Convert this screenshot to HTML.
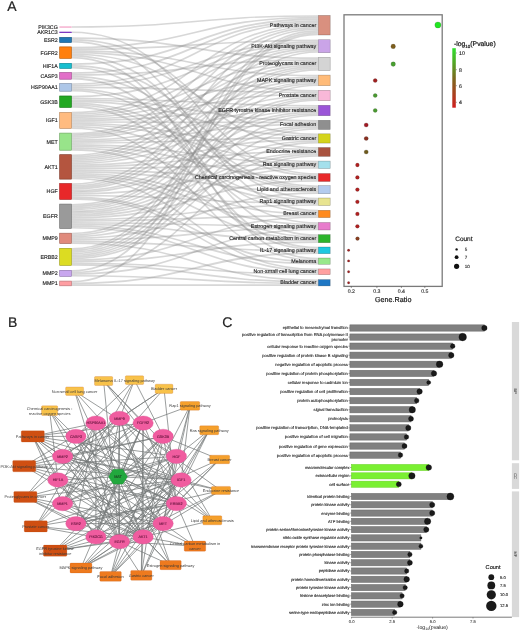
<!DOCTYPE html>
<html><head><meta charset="utf-8"><style>
html,body{margin:0;padding:0;background:#fff;}
svg{display:block;font-family:"Liberation Sans", sans-serif;text-rendering:geometricPrecision;will-change:transform;}
</style></head><body>
<svg width="520" height="631" viewBox="0 0 520 631">
<g fill="none" stroke="#8c8c8c" stroke-opacity="0.35"><path d="M71.8,27.05C194.9,27.05 194.9,15.95 318.0,15.95" stroke-width="1.39"/><path d="M71.8,32.35C194.9,32.35 194.9,174.07 318.0,174.07" stroke-width="1.51"/><path d="M71.8,38.21C194.9,38.21 194.9,58.09 318.0,58.09" stroke-width="1.81"/><path d="M71.8,39.98C194.9,39.98 194.9,147.96 318.0,147.96" stroke-width="1.74"/><path d="M71.8,41.72C194.9,41.72 194.9,210.71 318.0,210.71" stroke-width="1.74"/><path d="M71.8,47.56C194.9,47.56 194.9,17.50 318.0,17.50" stroke-width="1.70"/><path d="M71.8,49.26C194.9,49.26 194.9,40.39 318.0,40.39" stroke-width="1.71"/><path d="M71.8,50.95C194.9,50.95 194.9,75.59 318.0,75.59" stroke-width="1.66"/><path d="M71.8,52.60C194.9,52.60 194.9,90.74 318.0,90.74" stroke-width="1.64"/><path d="M71.8,54.26C194.9,54.26 194.9,134.33 318.0,134.33" stroke-width="1.68"/><path d="M71.8,55.93C194.9,55.93 194.9,198.53 318.0,198.53" stroke-width="1.67"/><path d="M71.8,57.63C194.9,57.63 194.9,258.66 318.0,258.66" stroke-width="1.72"/><path d="M71.8,64.03C194.9,64.03 194.9,19.24 318.0,19.24" stroke-width="1.79"/><path d="M71.8,65.84C194.9,65.84 194.9,175.73 318.0,175.73" stroke-width="1.81"/><path d="M71.8,67.65C194.9,67.65 194.9,235.28 318.0,235.28" stroke-width="1.82"/><path d="M71.8,73.16C194.9,73.16 194.9,21.01 318.0,21.01" stroke-width="1.75"/><path d="M71.8,74.92C194.9,74.92 194.9,59.88 318.0,59.88" stroke-width="1.77"/><path d="M71.8,76.70C194.9,76.70 194.9,186.27 318.0,186.27" stroke-width="1.78"/><path d="M71.8,78.50C194.9,78.50 194.9,247.72 318.0,247.72" stroke-width="1.83"/><path d="M71.8,84.10C194.9,84.10 194.9,22.72 318.0,22.72" stroke-width="1.66"/><path d="M71.8,85.77C194.9,85.77 194.9,42.08 318.0,42.08" stroke-width="1.67"/><path d="M71.8,87.41C194.9,87.41 194.9,92.37 318.0,92.37" stroke-width="1.61"/><path d="M71.8,89.05C194.9,89.05 194.9,188.00 318.0,188.00" stroke-width="1.69"/><path d="M71.8,90.71C194.9,90.71 194.9,223.00 318.0,223.00" stroke-width="1.63"/><path d="M71.8,96.63C194.9,96.63 194.9,43.77 318.0,43.77" stroke-width="1.71"/><path d="M71.8,98.30C194.9,98.30 194.9,105.73 318.0,105.73" stroke-width="1.64"/><path d="M71.8,99.96C194.9,99.96 194.9,120.86 318.0,120.86" stroke-width="1.67"/><path d="M71.8,101.64C194.9,101.64 194.9,136.01 318.0,136.01" stroke-width="1.68"/><path d="M71.8,103.34C194.9,103.34 194.9,189.71 318.0,189.71" stroke-width="1.73"/><path d="M71.8,105.03C194.9,105.03 194.9,212.41 318.0,212.41" stroke-width="1.65"/><path d="M71.8,106.74C194.9,106.74 194.9,249.52 318.0,249.52" stroke-width="1.77"/><path d="M71.8,112.59C194.9,112.59 194.9,24.35 318.0,24.35" stroke-width="1.59"/><path d="M71.8,114.18C194.9,114.18 194.9,45.42 318.0,45.42" stroke-width="1.60"/><path d="M71.8,115.78C194.9,115.78 194.9,61.57 318.0,61.57" stroke-width="1.60"/><path d="M71.8,117.36C194.9,117.36 194.9,77.19 318.0,77.19" stroke-width="1.55"/><path d="M71.8,118.90C194.9,118.90 194.9,93.93 318.0,93.93" stroke-width="1.53"/><path d="M71.8,120.43C194.9,120.43 194.9,107.32 318.0,107.32" stroke-width="1.53"/><path d="M71.8,121.97C194.9,121.97 194.9,122.48 318.0,122.48" stroke-width="1.56"/><path d="M71.8,123.52C194.9,123.52 194.9,149.60 318.0,149.60" stroke-width="1.54"/><path d="M71.8,125.06C194.9,125.06 194.9,161.56 318.0,161.56" stroke-width="1.55"/><path d="M71.8,126.61C194.9,126.61 194.9,200.14 318.0,200.14" stroke-width="1.56"/><path d="M71.8,128.20C194.9,128.20 194.9,260.32 318.0,260.32" stroke-width="1.61"/><path d="M71.8,133.49C194.9,133.49 194.9,25.96 318.0,25.96" stroke-width="1.65"/><path d="M71.8,135.14C194.9,135.14 194.9,47.04 318.0,47.04" stroke-width="1.65"/><path d="M71.8,136.80C194.9,136.80 194.9,63.20 318.0,63.20" stroke-width="1.66"/><path d="M71.8,138.43C194.9,138.43 194.9,78.76 318.0,78.76" stroke-width="1.60"/><path d="M71.8,140.03C194.9,140.03 194.9,108.88 318.0,108.88" stroke-width="1.59"/><path d="M71.8,141.63C194.9,141.63 194.9,124.07 318.0,124.07" stroke-width="1.62"/><path d="M71.8,143.26C194.9,143.26 194.9,137.67 318.0,137.67" stroke-width="1.63"/><path d="M71.8,144.88C194.9,144.88 194.9,163.13 318.0,163.13" stroke-width="1.60"/><path d="M71.8,146.51C194.9,146.51 194.9,177.47 318.0,177.47" stroke-width="1.66"/><path d="M71.8,148.15C194.9,148.15 194.9,201.73 318.0,201.73" stroke-width="1.61"/><path d="M71.8,149.80C194.9,149.80 194.9,237.03 318.0,237.03" stroke-width="1.67"/><path d="M71.8,155.32C194.9,155.32 194.9,27.62 318.0,27.62" stroke-width="1.67"/><path d="M71.8,157.00C194.9,157.00 194.9,48.71 318.0,48.71" stroke-width="1.68"/><path d="M71.8,158.69C194.9,158.69 194.9,64.87 318.0,64.87" stroke-width="1.69"/><path d="M71.8,160.35C194.9,160.35 194.9,80.38 318.0,80.38" stroke-width="1.63"/><path d="M71.8,161.97C194.9,161.97 194.9,95.51 318.0,95.51" stroke-width="1.62"/><path d="M71.8,163.59C194.9,163.59 194.9,110.48 318.0,110.48" stroke-width="1.62"/><path d="M71.8,165.23C194.9,165.23 194.9,139.31 318.0,139.31" stroke-width="1.66"/><path d="M71.8,166.87C194.9,166.87 194.9,151.19 318.0,151.19" stroke-width="1.62"/><path d="M71.8,168.50C194.9,168.50 194.9,164.75 318.0,164.75" stroke-width="1.63"/><path d="M71.8,170.16C194.9,170.16 194.9,179.15 318.0,179.15" stroke-width="1.69"/><path d="M71.8,171.86C194.9,171.86 194.9,191.43 318.0,191.43" stroke-width="1.70"/><path d="M71.8,173.53C194.9,173.53 194.9,214.04 318.0,214.04" stroke-width="1.62"/><path d="M71.8,175.16C194.9,175.16 194.9,224.63 318.0,224.63" stroke-width="1.64"/><path d="M71.8,176.83C194.9,176.83 194.9,238.71 318.0,238.71" stroke-width="1.70"/><path d="M71.8,178.50C194.9,178.50 194.9,269.38 318.0,269.38" stroke-width="1.63"/><path d="M71.8,184.09C194.9,184.09 194.9,29.29 318.0,29.29" stroke-width="1.66"/><path d="M71.8,185.75C194.9,185.75 194.9,50.39 318.0,50.39" stroke-width="1.66"/><path d="M71.8,187.42C194.9,187.42 194.9,66.55 318.0,66.55" stroke-width="1.67"/><path d="M71.8,189.06C194.9,189.06 194.9,82.01 318.0,82.01" stroke-width="1.61"/><path d="M71.8,190.67C194.9,190.67 194.9,112.09 318.0,112.09" stroke-width="1.60"/><path d="M71.8,192.29C194.9,192.29 194.9,125.70 318.0,125.70" stroke-width="1.63"/><path d="M71.8,193.91C194.9,193.91 194.9,166.38 318.0,166.38" stroke-width="1.61"/><path d="M71.8,195.53C194.9,195.53 194.9,203.35 318.0,203.35" stroke-width="1.63"/><path d="M71.8,197.18C194.9,197.18 194.9,261.97 318.0,261.97" stroke-width="1.68"/><path d="M71.8,198.83C194.9,198.83 194.9,271.00 318.0,271.00" stroke-width="1.61"/><path d="M71.8,204.74C194.9,204.74 194.9,68.23 318.0,68.23" stroke-width="1.69"/><path d="M71.8,206.39C194.9,206.39 194.9,83.63 318.0,83.63" stroke-width="1.63"/><path d="M71.8,208.02C194.9,208.02 194.9,97.13 318.0,97.13" stroke-width="1.62"/><path d="M71.8,209.63C194.9,209.63 194.9,113.70 318.0,113.70" stroke-width="1.62"/><path d="M71.8,211.26C194.9,211.26 194.9,127.34 318.0,127.34" stroke-width="1.65"/><path d="M71.8,212.92C194.9,212.92 194.9,140.97 318.0,140.97" stroke-width="1.65"/><path d="M71.8,214.55C194.9,214.55 194.9,152.81 318.0,152.81" stroke-width="1.62"/><path d="M71.8,216.18C194.9,216.18 194.9,168.00 318.0,168.00" stroke-width="1.63"/><path d="M71.8,217.84C194.9,217.84 194.9,180.84 318.0,180.84" stroke-width="1.69"/><path d="M71.8,219.50C194.9,219.50 194.9,204.98 318.0,204.98" stroke-width="1.64"/><path d="M71.8,221.13C194.9,221.13 194.9,215.66 318.0,215.66" stroke-width="1.62"/><path d="M71.8,222.76C194.9,222.76 194.9,226.27 318.0,226.27" stroke-width="1.64"/><path d="M71.8,224.43C194.9,224.43 194.9,240.42 318.0,240.42" stroke-width="1.70"/><path d="M71.8,226.13C194.9,226.13 194.9,263.65 318.0,263.65" stroke-width="1.69"/><path d="M71.8,227.79C194.9,227.79 194.9,272.63 318.0,272.63" stroke-width="1.63"/><path d="M71.8,233.50C194.9,233.50 194.9,69.89 318.0,69.89" stroke-width="1.63"/><path d="M71.8,235.10C194.9,235.10 194.9,98.72 318.0,98.72" stroke-width="1.56"/><path d="M71.8,236.66C194.9,236.66 194.9,154.40 318.0,154.40" stroke-width="1.57"/><path d="M71.8,238.27C194.9,238.27 194.9,193.10 318.0,193.10" stroke-width="1.65"/><path d="M71.8,239.89C194.9,239.89 194.9,227.89 318.0,227.89" stroke-width="1.59"/><path d="M71.8,241.53C194.9,241.53 194.9,251.25 318.0,251.25" stroke-width="1.69"/><path d="M71.8,243.20C194.9,243.20 194.9,280.20 318.0,280.20" stroke-width="1.64"/><path d="M71.8,248.78C194.9,248.78 194.9,30.94 318.0,30.94" stroke-width="1.64"/><path d="M71.8,250.42C194.9,250.42 194.9,52.04 318.0,52.04" stroke-width="1.65"/><path d="M71.8,252.04C194.9,252.04 194.9,85.24 318.0,85.24" stroke-width="1.60"/><path d="M71.8,253.63C194.9,253.63 194.9,100.29 318.0,100.29" stroke-width="1.58"/><path d="M71.8,255.21C194.9,255.21 194.9,115.30 318.0,115.30" stroke-width="1.58"/><path d="M71.8,256.81C194.9,256.81 194.9,128.97 318.0,128.97" stroke-width="1.61"/><path d="M71.8,258.42C194.9,258.42 194.9,142.60 318.0,142.60" stroke-width="1.62"/><path d="M71.8,260.03C194.9,260.03 194.9,217.27 318.0,217.27" stroke-width="1.59"/><path d="M71.8,261.65C194.9,261.65 194.9,242.10 318.0,242.10" stroke-width="1.67"/><path d="M71.8,263.28C194.9,263.28 194.9,274.24 318.0,274.24" stroke-width="1.60"/><path d="M71.8,264.91C194.9,264.91 194.9,281.85 318.0,281.85" stroke-width="1.66"/><path d="M71.8,270.83C194.9,270.83 194.9,32.59 318.0,32.59" stroke-width="1.67"/><path d="M71.8,272.47C194.9,272.47 194.9,156.00 318.0,156.00" stroke-width="1.62"/><path d="M71.8,274.10C194.9,274.10 194.9,229.50 318.0,229.50" stroke-width="1.64"/><path d="M71.8,275.76C194.9,275.76 194.9,283.53 318.0,283.53" stroke-width="1.69"/><path d="M71.8,281.68C194.9,281.68 194.9,34.28 318.0,34.28" stroke-width="1.73"/><path d="M71.8,283.44C194.9,283.44 194.9,252.99 318.0,252.99" stroke-width="1.80"/><path d="M71.8,285.21C194.9,285.21 194.9,285.24 318.0,285.24" stroke-width="1.75"/></g>
<rect x="59.699999999999996" y="26.8" width="11.8" height="0.50" fill="#f4a6c8" stroke="#f4a6c8" stroke-width="0.6"/>
<text x="57.80" y="28.96" font-size="5.3" text-anchor="end" fill="#222" stroke="#222" stroke-width="0.13" >PIK3CG</text>
<rect x="59.699999999999996" y="32.0" width="11.8" height="0.70" fill="#7a35c0" stroke="#7a35c0" stroke-width="0.6"/>
<text x="57.80" y="34.26" font-size="5.3" text-anchor="end" fill="#222" stroke="#222" stroke-width="0.13" >AKR1C3</text>
<rect x="59.699999999999996" y="37.4" width="11.8" height="5.10" fill="#1f77b4" stroke="#1f77b4" stroke-width="0.6"/>
<rect x="59.699999999999996" y="37.4" width="11.8" height="5.10" fill="none" stroke="#000" stroke-opacity="0.3" stroke-width="0.6"/>
<text x="57.80" y="41.86" font-size="5.3" text-anchor="end" fill="#222" stroke="#222" stroke-width="0.13" >ESR2</text>
<rect x="59.699999999999996" y="46.9" width="11.8" height="11.40" fill="#ff7f0e" stroke="#ff7f0e" stroke-width="0.6"/>
<rect x="59.699999999999996" y="46.9" width="11.8" height="11.40" fill="none" stroke="#000" stroke-opacity="0.3" stroke-width="0.6"/>
<text x="57.80" y="54.51" font-size="5.3" text-anchor="end" fill="#222" stroke="#222" stroke-width="0.13" >FGFR2</text>
<rect x="59.699999999999996" y="63.3" width="11.8" height="5.10" fill="#17becf" stroke="#17becf" stroke-width="0.6"/>
<rect x="59.699999999999996" y="63.3" width="11.8" height="5.10" fill="none" stroke="#000" stroke-opacity="0.3" stroke-width="0.6"/>
<text x="57.80" y="67.76" font-size="5.3" text-anchor="end" fill="#222" stroke="#222" stroke-width="0.13" >HIF1A</text>
<rect x="59.699999999999996" y="72.5" width="11.8" height="6.70" fill="#e26fc8" stroke="#e26fc8" stroke-width="0.6"/>
<rect x="59.699999999999996" y="72.5" width="11.8" height="6.70" fill="none" stroke="#000" stroke-opacity="0.3" stroke-width="0.6"/>
<text x="57.80" y="77.76" font-size="5.3" text-anchor="end" fill="#222" stroke="#222" stroke-width="0.13" >CASP3</text>
<rect x="59.699999999999996" y="83.6" width="11.8" height="7.60" fill="#aec7e8" stroke="#aec7e8" stroke-width="0.6"/>
<rect x="59.699999999999996" y="83.6" width="11.8" height="7.60" fill="none" stroke="#000" stroke-opacity="0.3" stroke-width="0.6"/>
<text x="57.80" y="89.31" font-size="5.3" text-anchor="end" fill="#222" stroke="#222" stroke-width="0.13" >HSP90AA1</text>
<rect x="59.699999999999996" y="96.0" width="11.8" height="11.40" fill="#22a822" stroke="#22a822" stroke-width="0.6"/>
<rect x="59.699999999999996" y="96.0" width="11.8" height="11.40" fill="none" stroke="#000" stroke-opacity="0.3" stroke-width="0.6"/>
<text x="57.80" y="103.61" font-size="5.3" text-anchor="end" fill="#222" stroke="#222" stroke-width="0.13" >GSK3B</text>
<rect x="59.699999999999996" y="112.5" width="11.8" height="15.80" fill="#ffbb80" stroke="#ffbb80" stroke-width="0.6"/>
<rect x="59.699999999999996" y="112.5" width="11.8" height="15.80" fill="none" stroke="#000" stroke-opacity="0.3" stroke-width="0.6"/>
<text x="57.80" y="122.31" font-size="5.3" text-anchor="end" fill="#222" stroke="#222" stroke-width="0.13" >IGF1</text>
<rect x="59.699999999999996" y="133.10000000000002" width="11.8" height="17.10" fill="#98e48a" stroke="#98e48a" stroke-width="0.6"/>
<rect x="59.699999999999996" y="133.10000000000002" width="11.8" height="17.10" fill="none" stroke="#000" stroke-opacity="0.3" stroke-width="0.6"/>
<text x="57.80" y="143.56" font-size="5.3" text-anchor="end" fill="#222" stroke="#222" stroke-width="0.13" >MET</text>
<rect x="59.699999999999996" y="154.70000000000002" width="11.8" height="24.40" fill="#b4553f" stroke="#b4553f" stroke-width="0.6"/>
<rect x="59.699999999999996" y="154.70000000000002" width="11.8" height="24.40" fill="none" stroke="#000" stroke-opacity="0.3" stroke-width="0.6"/>
<text x="57.80" y="168.81" font-size="5.3" text-anchor="end" fill="#222" stroke="#222" stroke-width="0.13" >AKT1</text>
<rect x="59.699999999999996" y="183.60000000000002" width="11.8" height="15.70" fill="#e8282a" stroke="#e8282a" stroke-width="0.6"/>
<rect x="59.699999999999996" y="183.60000000000002" width="11.8" height="15.70" fill="none" stroke="#000" stroke-opacity="0.3" stroke-width="0.6"/>
<text x="57.80" y="193.36" font-size="5.3" text-anchor="end" fill="#222" stroke="#222" stroke-width="0.13" >HGF</text>
<rect x="59.699999999999996" y="204.10000000000002" width="11.8" height="24.30" fill="#9a9a9a" stroke="#9a9a9a" stroke-width="0.6"/>
<rect x="59.699999999999996" y="204.10000000000002" width="11.8" height="24.30" fill="none" stroke="#000" stroke-opacity="0.3" stroke-width="0.6"/>
<text x="57.80" y="218.16" font-size="5.3" text-anchor="end" fill="#222" stroke="#222" stroke-width="0.13" >EGFR</text>
<rect x="59.699999999999996" y="233.20000000000002" width="11.8" height="10.30" fill="#e08a7c" stroke="#e08a7c" stroke-width="0.6"/>
<rect x="59.699999999999996" y="233.20000000000002" width="11.8" height="10.30" fill="none" stroke="#000" stroke-opacity="0.3" stroke-width="0.6"/>
<text x="57.80" y="240.26" font-size="5.3" text-anchor="end" fill="#222" stroke="#222" stroke-width="0.13" >MMP9</text>
<rect x="59.699999999999996" y="248.4" width="11.8" height="16.90" fill="#dcdc22" stroke="#dcdc22" stroke-width="0.6"/>
<rect x="59.699999999999996" y="248.4" width="11.8" height="16.90" fill="none" stroke="#000" stroke-opacity="0.3" stroke-width="0.6"/>
<text x="57.80" y="258.76" font-size="5.3" text-anchor="end" fill="#222" stroke="#222" stroke-width="0.13" >ERBB2</text>
<rect x="59.699999999999996" y="270.3" width="11.8" height="6.00" fill="#c8a6ee" stroke="#c8a6ee" stroke-width="0.6"/>
<rect x="59.699999999999996" y="270.3" width="11.8" height="6.00" fill="none" stroke="#000" stroke-opacity="0.3" stroke-width="0.6"/>
<text x="57.80" y="275.21" font-size="5.3" text-anchor="end" fill="#222" stroke="#222" stroke-width="0.13" >MMP2</text>
<rect x="59.699999999999996" y="281.1" width="11.8" height="4.70" fill="#ff9ea2" stroke="#ff9ea2" stroke-width="0.6"/>
<rect x="59.699999999999996" y="281.1" width="11.8" height="4.70" fill="none" stroke="#000" stroke-opacity="0.3" stroke-width="0.6"/>
<text x="57.80" y="285.36" font-size="5.3" text-anchor="end" fill="#222" stroke="#222" stroke-width="0.13" >MMP1</text>
<rect x="318.3" y="15.4" width="11.9" height="19.60" fill="#d9907f" stroke="#000" stroke-opacity="0.3" stroke-width="0.6"/>
<text x="316.20" y="26.63" font-size="5.35" text-anchor="end" fill="#222" stroke="#222" stroke-width="0.13" >Pathways in cancer</text>
<rect x="318.3" y="39.699999999999996" width="11.9" height="13.00" fill="#caa4e8" stroke="#000" stroke-opacity="0.3" stroke-width="0.6"/>
<text x="316.20" y="47.63" font-size="5.35" text-anchor="end" fill="#222" stroke="#222" stroke-width="0.13" >PI3K-Akt signaling pathway</text>
<rect x="318.3" y="57.4" width="11.9" height="13.10" fill="#d4d4d4" stroke="#000" stroke-opacity="0.3" stroke-width="0.6"/>
<text x="316.20" y="65.38" font-size="5.35" text-anchor="end" fill="#222" stroke="#222" stroke-width="0.13" >Proteoglycans in cancer</text>
<rect x="318.3" y="75.1" width="11.9" height="10.60" fill="#ffbb78" stroke="#000" stroke-opacity="0.3" stroke-width="0.6"/>
<text x="316.20" y="81.83" font-size="5.35" text-anchor="end" fill="#222" stroke="#222" stroke-width="0.13" >MAPK signaling pathway</text>
<rect x="318.3" y="90.3" width="11.9" height="10.40" fill="#f9b8d8" stroke="#000" stroke-opacity="0.3" stroke-width="0.6"/>
<text x="316.20" y="96.93" font-size="5.35" text-anchor="end" fill="#222" stroke="#222" stroke-width="0.13" >Prostate cancer</text>
<rect x="318.3" y="105.3" width="11.9" height="10.40" fill="#9b55d8" stroke="#000" stroke-opacity="0.3" stroke-width="0.6"/>
<text x="316.20" y="111.93" font-size="5.35" text-anchor="end" fill="#222" stroke="#222" stroke-width="0.13" >EGFR tyrosine kinase inhibitor resistance</text>
<rect x="318.3" y="120.3" width="11.9" height="9.20" fill="#8f8f8f" stroke="#000" stroke-opacity="0.3" stroke-width="0.6"/>
<text x="316.20" y="126.33" font-size="5.35" text-anchor="end" fill="#222" stroke="#222" stroke-width="0.13" >Focal adhesion</text>
<rect x="318.3" y="133.8" width="11.9" height="9.30" fill="#d4d41c" stroke="#000" stroke-opacity="0.3" stroke-width="0.6"/>
<text x="316.20" y="139.88" font-size="5.35" text-anchor="end" fill="#222" stroke="#222" stroke-width="0.13" >Gastric cancer</text>
<rect x="318.3" y="147.5" width="11.9" height="8.90" fill="#a9533f" stroke="#000" stroke-opacity="0.3" stroke-width="0.6"/>
<text x="316.20" y="153.38" font-size="5.35" text-anchor="end" fill="#222" stroke="#222" stroke-width="0.13" >Endocrine resistance</text>
<rect x="318.3" y="161.10000000000002" width="11.9" height="7.40" fill="#a4e0ec" stroke="#000" stroke-opacity="0.3" stroke-width="0.6"/>
<text x="316.20" y="166.23" font-size="5.35" text-anchor="end" fill="#222" stroke="#222" stroke-width="0.13" >Ras signaling pathway</text>
<rect x="318.3" y="173.5" width="11.9" height="8.00" fill="#e8282a" stroke="#000" stroke-opacity="0.3" stroke-width="0.6"/>
<text x="316.20" y="178.93" font-size="5.35" text-anchor="end" fill="#222" stroke="#222" stroke-width="0.13" >Chemical carcinogenesis - reactive oxygen species</text>
<rect x="318.3" y="185.60000000000002" width="11.9" height="8.10" fill="#b3cbee" stroke="#000" stroke-opacity="0.3" stroke-width="0.6"/>
<text x="316.20" y="191.08" font-size="5.35" text-anchor="end" fill="#222" stroke="#222" stroke-width="0.13" >Lipid and atherosclerosis</text>
<rect x="318.3" y="198.0" width="11.9" height="7.50" fill="#e8e490" stroke="#000" stroke-opacity="0.3" stroke-width="0.6"/>
<text x="316.20" y="203.18" font-size="5.35" text-anchor="end" fill="#222" stroke="#222" stroke-width="0.13" >Rap1 signaling pathway</text>
<rect x="318.3" y="210.3" width="11.9" height="7.30" fill="#ff8a1e" stroke="#000" stroke-opacity="0.3" stroke-width="0.6"/>
<text x="316.20" y="215.38" font-size="5.35" text-anchor="end" fill="#222" stroke="#222" stroke-width="0.13" >Breast cancer</text>
<rect x="318.3" y="222.5" width="11.9" height="7.50" fill="#e87ccc" stroke="#000" stroke-opacity="0.3" stroke-width="0.6"/>
<text x="316.20" y="227.68" font-size="5.35" text-anchor="end" fill="#222" stroke="#222" stroke-width="0.13" >Estrogen signaling pathway</text>
<rect x="318.3" y="234.60000000000002" width="11.9" height="8.10" fill="#2cb42c" stroke="#000" stroke-opacity="0.3" stroke-width="0.6"/>
<text x="316.20" y="240.08" font-size="5.35" text-anchor="end" fill="#222" stroke="#222" stroke-width="0.13" >Central carbon metabolism in cancer</text>
<rect x="318.3" y="247.0" width="11.9" height="6.70" fill="#1ec8e0" stroke="#000" stroke-opacity="0.3" stroke-width="0.6"/>
<text x="316.20" y="251.78" font-size="5.35" text-anchor="end" fill="#222" stroke="#222" stroke-width="0.13" >IL-17 signaling pathway</text>
<rect x="318.3" y="258.0" width="11.9" height="6.30" fill="#98e88a" stroke="#000" stroke-opacity="0.3" stroke-width="0.6"/>
<text x="316.20" y="262.58" font-size="5.35" text-anchor="end" fill="#222" stroke="#222" stroke-width="0.13" >Melanoma</text>
<rect x="318.3" y="268.90000000000003" width="11.9" height="5.80" fill="#ffa0a0" stroke="#000" stroke-opacity="0.3" stroke-width="0.6"/>
<text x="316.20" y="273.23" font-size="5.35" text-anchor="end" fill="#222" stroke="#222" stroke-width="0.13" >Non-small cell lung cancer</text>
<rect x="318.3" y="279.6" width="11.9" height="6.30" fill="#1f77c4" stroke="#000" stroke-opacity="0.3" stroke-width="0.6"/>
<text x="316.20" y="284.18" font-size="5.35" text-anchor="end" fill="#222" stroke="#222" stroke-width="0.13" >Bladder cancer</text>
<text x="7.30" y="11.34" font-size="14" text-anchor="start" fill="#222" stroke="#222" stroke-width="0.20" >A</text>
<rect x="344.0" y="14.8" width="98.2" height="271.6" fill="none" stroke="#7a7a7a" stroke-width="1.3"/>
<circle cx="437.9" cy="25.0" r="3.1" fill="#22e622" stroke="#222" stroke-opacity="0.5" stroke-width="0.3"/>
<circle cx="393.2" cy="46.4" r="2.3" fill="#7d5e1c" stroke="#222" stroke-opacity="0.5" stroke-width="0.3"/>
<circle cx="393.2" cy="64.1" r="2.3" fill="#48a030" stroke="#222" stroke-opacity="0.5" stroke-width="0.3"/>
<circle cx="375.2" cy="80.6" r="2.0" fill="#a02020" stroke="#222" stroke-opacity="0.5" stroke-width="0.3"/>
<circle cx="375.2" cy="95.5" r="2.0" fill="#4a9a30" stroke="#222" stroke-opacity="0.5" stroke-width="0.3"/>
<circle cx="375.2" cy="110.4" r="2.0" fill="#4a9a30" stroke="#222" stroke-opacity="0.5" stroke-width="0.3"/>
<circle cx="366.2" cy="125.0" r="2.1" fill="#a01a24" stroke="#222" stroke-opacity="0.5" stroke-width="0.3"/>
<circle cx="366.2" cy="138.5" r="2.1" fill="#8a3020" stroke="#222" stroke-opacity="0.5" stroke-width="0.3"/>
<circle cx="366.2" cy="152.0" r="2.1" fill="#6e5a1c" stroke="#222" stroke-opacity="0.5" stroke-width="0.3"/>
<circle cx="357.4" cy="165.0" r="1.9" fill="#b02020" stroke="#222" stroke-opacity="0.5" stroke-width="0.3"/>
<circle cx="357.4" cy="177.4" r="1.9" fill="#b02020" stroke="#222" stroke-opacity="0.5" stroke-width="0.3"/>
<circle cx="357.4" cy="189.6" r="1.9" fill="#b02020" stroke="#222" stroke-opacity="0.5" stroke-width="0.3"/>
<circle cx="357.4" cy="201.8" r="1.9" fill="#b02020" stroke="#222" stroke-opacity="0.5" stroke-width="0.3"/>
<circle cx="357.4" cy="213.9" r="1.9" fill="#b02020" stroke="#222" stroke-opacity="0.5" stroke-width="0.3"/>
<circle cx="357.4" cy="226.3" r="1.9" fill="#b02020" stroke="#222" stroke-opacity="0.5" stroke-width="0.3"/>
<circle cx="357.5" cy="238.6" r="1.9" fill="#8a4020" stroke="#222" stroke-opacity="0.5" stroke-width="0.3"/>
<circle cx="348.6" cy="250.2" r="1.2" fill="#a02020" stroke="#222" stroke-opacity="0.5" stroke-width="0.3"/>
<circle cx="348.6" cy="260.9" r="1.2" fill="#a02020" stroke="#222" stroke-opacity="0.5" stroke-width="0.3"/>
<circle cx="348.6" cy="271.8" r="1.2" fill="#a02020" stroke="#222" stroke-opacity="0.5" stroke-width="0.3"/>
<circle cx="348.6" cy="282.8" r="1.2" fill="#a02020" stroke="#222" stroke-opacity="0.5" stroke-width="0.3"/>
<line x1="351.3" y1="286.5" x2="351.3" y2="288" stroke="#333" stroke-width="0.5"/>
<text x="351.30" y="293.37" font-size="5.2" text-anchor="middle" fill="#333" stroke="#333" stroke-width="0.13" >0.2</text>
<line x1="376.9" y1="286.5" x2="376.9" y2="288" stroke="#333" stroke-width="0.5"/>
<text x="376.90" y="293.37" font-size="5.2" text-anchor="middle" fill="#333" stroke="#333" stroke-width="0.13" >0.3</text>
<line x1="401.4" y1="286.5" x2="401.4" y2="288" stroke="#333" stroke-width="0.5"/>
<text x="401.40" y="293.37" font-size="5.2" text-anchor="middle" fill="#333" stroke="#333" stroke-width="0.13" >0.4</text>
<line x1="424.8" y1="286.5" x2="424.8" y2="288" stroke="#333" stroke-width="0.5"/>
<text x="424.80" y="293.37" font-size="5.2" text-anchor="middle" fill="#333" stroke="#333" stroke-width="0.13" >0.5</text>
<text x="393.20" y="301.79" font-size="7.2" text-anchor="middle" fill="#111" stroke="#111" stroke-width="0.18" >Gene.Ratio</text>
<defs><linearGradient id="cg" x1="0" y1="0" x2="0" y2="1"><stop offset="0" stop-color="#2ee02e"/><stop offset="0.5" stop-color="#7a6a1e"/><stop offset="1" stop-color="#d01e1e"/></linearGradient></defs>
<rect x="452.3" y="48.2" width="3.5" height="59.5" fill="url(#cg)"/>
<text x="454.0" y="46.0" font-size="6.8" fill="#111" stroke="#111" stroke-width="0.2">-log<tspan font-size="4.5" dy="1.6">10</tspan><tspan dy="-1.6">(Pvalue)</tspan></text>
<line x1="455.8" y1="53.0" x2="457" y2="53.0" stroke="#333" stroke-width="0.4"/>
<text x="459.00" y="54.87" font-size="5.2" text-anchor="start" fill="#222" stroke="#222" stroke-width="0.13" >10</text>
<line x1="455.8" y1="69.7" x2="457" y2="69.7" stroke="#333" stroke-width="0.4"/>
<text x="459.00" y="71.57" font-size="5.2" text-anchor="start" fill="#222" stroke="#222" stroke-width="0.13" >8</text>
<line x1="455.8" y1="85.7" x2="457" y2="85.7" stroke="#333" stroke-width="0.4"/>
<text x="459.00" y="87.57" font-size="5.2" text-anchor="start" fill="#222" stroke="#222" stroke-width="0.13" >6</text>
<line x1="455.8" y1="102.3" x2="457" y2="102.3" stroke="#333" stroke-width="0.4"/>
<text x="459.00" y="104.17" font-size="5.2" text-anchor="start" fill="#222" stroke="#222" stroke-width="0.13" >4</text>
<text x="455.20" y="241.24" font-size="6.5" text-anchor="start" fill="#111" stroke="#111" stroke-width="0.16" >Count</text>
<circle cx="456.6" cy="249.4" r="1.2" fill="#111"/>
<text x="464.70" y="251.02" font-size="4.5" text-anchor="start" fill="#222" stroke="#222" stroke-width="0.11" >5</text>
<circle cx="456.6" cy="257.2" r="1.9" fill="#111"/>
<text x="464.70" y="258.82" font-size="4.5" text-anchor="start" fill="#222" stroke="#222" stroke-width="0.11" >7</text>
<circle cx="456.6" cy="266.3" r="2.6" fill="#111"/>
<text x="464.70" y="267.92" font-size="4.5" text-anchor="start" fill="#222" stroke="#222" stroke-width="0.11" >10</text>
<text x="8.00" y="327.04" font-size="14" text-anchor="start" fill="#222" stroke="#222" stroke-width="0.20" >B</text>
<g stroke="#737878" stroke-width="0.72"><line x1="95.9" y1="536.9" x2="32.7" y2="436.4"/><line x1="75.9" y1="523.6" x2="25.3" y2="497.0"/><line x1="75.9" y1="523.6" x2="221.0" y2="490.5"/><line x1="75.9" y1="523.6" x2="219.6" y2="459.5"/><line x1="143.1" y1="423.1" x2="32.7" y2="436.4"/><line x1="143.1" y1="423.1" x2="24.2" y2="466.1"/><line x1="143.1" y1="423.1" x2="80.9" y2="568.0"/><line x1="143.1" y1="423.1" x2="35.8" y2="526.3"/><line x1="143.1" y1="423.1" x2="141.3" y2="575.4"/><line x1="143.1" y1="423.1" x2="190.0" y2="405.9"/><line x1="143.1" y1="423.1" x2="103.6" y2="381.0"/><line x1="57.9" y1="480.0" x2="32.7" y2="436.4"/><line x1="57.9" y1="480.0" x2="49.6" y2="410.6"/><line x1="57.9" y1="480.0" x2="195.0" y2="546.1"/><line x1="75.9" y1="436.4" x2="32.7" y2="436.4"/><line x1="75.9" y1="436.4" x2="25.3" y2="497.0"/><line x1="75.9" y1="436.4" x2="212.3" y2="520.3"/><line x1="75.9" y1="436.4" x2="134.5" y2="380.2"/><line x1="95.9" y1="423.1" x2="32.7" y2="436.4"/><line x1="95.9" y1="423.1" x2="24.2" y2="466.1"/><line x1="95.9" y1="423.1" x2="35.8" y2="526.3"/><line x1="95.9" y1="423.1" x2="212.3" y2="520.3"/><line x1="95.9" y1="423.1" x2="170.6" y2="565.1"/><line x1="163.1" y1="436.4" x2="24.2" y2="466.1"/><line x1="163.1" y1="436.4" x2="55.1" y2="550.6"/><line x1="163.1" y1="436.4" x2="110.5" y2="576.4"/><line x1="163.1" y1="436.4" x2="141.3" y2="575.4"/><line x1="163.1" y1="436.4" x2="212.3" y2="520.3"/><line x1="163.1" y1="436.4" x2="219.6" y2="459.5"/><line x1="163.1" y1="436.4" x2="134.5" y2="380.2"/><line x1="181.1" y1="480.0" x2="32.7" y2="436.4"/><line x1="181.1" y1="480.0" x2="24.2" y2="466.1"/><line x1="181.1" y1="480.0" x2="25.3" y2="497.0"/><line x1="181.1" y1="480.0" x2="80.9" y2="568.0"/><line x1="181.1" y1="480.0" x2="35.8" y2="526.3"/><line x1="181.1" y1="480.0" x2="55.1" y2="550.6"/><line x1="181.1" y1="480.0" x2="110.5" y2="576.4"/><line x1="181.1" y1="480.0" x2="221.0" y2="490.5"/><line x1="181.1" y1="480.0" x2="209.2" y2="430.2"/><line x1="181.1" y1="480.0" x2="190.0" y2="405.9"/><line x1="181.1" y1="480.0" x2="103.6" y2="381.0"/><line x1="163.1" y1="523.6" x2="32.7" y2="436.4"/><line x1="163.1" y1="523.6" x2="24.2" y2="466.1"/><line x1="163.1" y1="523.6" x2="25.3" y2="497.0"/><line x1="163.1" y1="523.6" x2="80.9" y2="568.0"/><line x1="163.1" y1="523.6" x2="55.1" y2="550.6"/><line x1="163.1" y1="523.6" x2="110.5" y2="576.4"/><line x1="163.1" y1="523.6" x2="141.3" y2="575.4"/><line x1="163.1" y1="523.6" x2="209.2" y2="430.2"/><line x1="163.1" y1="523.6" x2="49.6" y2="410.6"/><line x1="163.1" y1="523.6" x2="190.0" y2="405.9"/><line x1="163.1" y1="523.6" x2="195.0" y2="546.1"/><line x1="143.1" y1="536.9" x2="32.7" y2="436.4"/><line x1="143.1" y1="536.9" x2="24.2" y2="466.1"/><line x1="143.1" y1="536.9" x2="25.3" y2="497.0"/><line x1="143.1" y1="536.9" x2="80.9" y2="568.0"/><line x1="143.1" y1="536.9" x2="35.8" y2="526.3"/><line x1="143.1" y1="536.9" x2="55.1" y2="550.6"/><line x1="143.1" y1="536.9" x2="141.3" y2="575.4"/><line x1="143.1" y1="536.9" x2="221.0" y2="490.5"/><line x1="143.1" y1="536.9" x2="209.2" y2="430.2"/><line x1="143.1" y1="536.9" x2="49.6" y2="410.6"/><line x1="143.1" y1="536.9" x2="212.3" y2="520.3"/><line x1="143.1" y1="536.9" x2="219.6" y2="459.5"/><line x1="143.1" y1="536.9" x2="170.6" y2="565.1"/><line x1="143.1" y1="536.9" x2="195.0" y2="546.1"/><line x1="143.1" y1="536.9" x2="74.6" y2="391.2"/><line x1="176.4" y1="456.4" x2="32.7" y2="436.4"/><line x1="176.4" y1="456.4" x2="24.2" y2="466.1"/><line x1="176.4" y1="456.4" x2="25.3" y2="497.0"/><line x1="176.4" y1="456.4" x2="80.9" y2="568.0"/><line x1="176.4" y1="456.4" x2="55.1" y2="550.6"/><line x1="176.4" y1="456.4" x2="110.5" y2="576.4"/><line x1="176.4" y1="456.4" x2="209.2" y2="430.2"/><line x1="176.4" y1="456.4" x2="190.0" y2="405.9"/><line x1="176.4" y1="456.4" x2="103.6" y2="381.0"/><line x1="176.4" y1="456.4" x2="74.6" y2="391.2"/><line x1="119.5" y1="541.6" x2="25.3" y2="497.0"/><line x1="119.5" y1="541.6" x2="80.9" y2="568.0"/><line x1="119.5" y1="541.6" x2="35.8" y2="526.3"/><line x1="119.5" y1="541.6" x2="55.1" y2="550.6"/><line x1="119.5" y1="541.6" x2="110.5" y2="576.4"/><line x1="119.5" y1="541.6" x2="141.3" y2="575.4"/><line x1="119.5" y1="541.6" x2="221.0" y2="490.5"/><line x1="119.5" y1="541.6" x2="209.2" y2="430.2"/><line x1="119.5" y1="541.6" x2="49.6" y2="410.6"/><line x1="119.5" y1="541.6" x2="190.0" y2="405.9"/><line x1="119.5" y1="541.6" x2="219.6" y2="459.5"/><line x1="119.5" y1="541.6" x2="170.6" y2="565.1"/><line x1="119.5" y1="541.6" x2="195.0" y2="546.1"/><line x1="119.5" y1="541.6" x2="103.6" y2="381.0"/><line x1="119.5" y1="541.6" x2="74.6" y2="391.2"/><line x1="119.5" y1="418.4" x2="25.3" y2="497.0"/><line x1="119.5" y1="418.4" x2="35.8" y2="526.3"/><line x1="119.5" y1="418.4" x2="221.0" y2="490.5"/><line x1="119.5" y1="418.4" x2="212.3" y2="520.3"/><line x1="119.5" y1="418.4" x2="170.6" y2="565.1"/><line x1="119.5" y1="418.4" x2="134.5" y2="380.2"/><line x1="119.5" y1="418.4" x2="164.0" y2="388.8"/><line x1="176.4" y1="503.6" x2="32.7" y2="436.4"/><line x1="176.4" y1="503.6" x2="24.2" y2="466.1"/><line x1="176.4" y1="503.6" x2="80.9" y2="568.0"/><line x1="176.4" y1="503.6" x2="35.8" y2="526.3"/><line x1="176.4" y1="503.6" x2="55.1" y2="550.6"/><line x1="176.4" y1="503.6" x2="110.5" y2="576.4"/><line x1="176.4" y1="503.6" x2="141.3" y2="575.4"/><line x1="176.4" y1="503.6" x2="219.6" y2="459.5"/><line x1="176.4" y1="503.6" x2="195.0" y2="546.1"/><line x1="176.4" y1="503.6" x2="74.6" y2="391.2"/><line x1="176.4" y1="503.6" x2="164.0" y2="388.8"/><line x1="62.6" y1="456.4" x2="32.7" y2="436.4"/><line x1="62.6" y1="456.4" x2="221.0" y2="490.5"/><line x1="62.6" y1="456.4" x2="170.6" y2="565.1"/><line x1="62.6" y1="456.4" x2="164.0" y2="388.8"/><line x1="62.6" y1="503.6" x2="32.7" y2="436.4"/><line x1="62.6" y1="503.6" x2="134.5" y2="380.2"/><line x1="62.6" y1="503.6" x2="164.0" y2="388.8"/><line x1="119.5" y1="418.4" x2="118" y2="476.7"/><line x1="143.1" y1="423.1" x2="118" y2="476.7"/><line x1="163.1" y1="436.4" x2="118" y2="476.7"/><line x1="176.4" y1="456.4" x2="118" y2="476.7"/><line x1="181.1" y1="480.0" x2="118" y2="476.7"/><line x1="176.4" y1="503.6" x2="118" y2="476.7"/><line x1="163.1" y1="523.6" x2="118" y2="476.7"/><line x1="143.1" y1="536.9" x2="118" y2="476.7"/><line x1="119.5" y1="541.6" x2="118" y2="476.7"/><line x1="95.9" y1="536.9" x2="118" y2="476.7"/><line x1="75.9" y1="523.6" x2="118" y2="476.7"/><line x1="62.6" y1="503.6" x2="118" y2="476.7"/><line x1="57.9" y1="480.0" x2="118" y2="476.7"/><line x1="62.6" y1="456.4" x2="118" y2="476.7"/><line x1="75.9" y1="436.4" x2="118" y2="476.7"/><line x1="95.9" y1="423.1" x2="118" y2="476.7"/><line x1="119.5" y1="418.4" x2="163.1" y2="523.6"/><line x1="119.5" y1="418.4" x2="119.5" y2="541.6"/><line x1="119.5" y1="418.4" x2="95.9" y2="536.9"/><line x1="119.5" y1="418.4" x2="62.6" y2="503.6"/><line x1="119.5" y1="418.4" x2="62.6" y2="456.4"/><line x1="143.1" y1="423.1" x2="176.4" y2="503.6"/><line x1="143.1" y1="423.1" x2="143.1" y2="536.9"/><line x1="143.1" y1="423.1" x2="95.9" y2="536.9"/><line x1="143.1" y1="423.1" x2="57.9" y2="480.0"/><line x1="163.1" y1="436.4" x2="176.4" y2="503.6"/><line x1="163.1" y1="436.4" x2="95.9" y2="536.9"/><line x1="163.1" y1="436.4" x2="75.9" y2="523.6"/><line x1="163.1" y1="436.4" x2="62.6" y2="456.4"/><line x1="176.4" y1="456.4" x2="163.1" y2="523.6"/><line x1="176.4" y1="456.4" x2="143.1" y2="536.9"/><line x1="176.4" y1="456.4" x2="62.6" y2="503.6"/><line x1="181.1" y1="480.0" x2="119.5" y2="541.6"/><line x1="181.1" y1="480.0" x2="95.9" y2="536.9"/><line x1="181.1" y1="480.0" x2="62.6" y2="503.6"/><line x1="181.1" y1="480.0" x2="62.6" y2="456.4"/><line x1="181.1" y1="480.0" x2="75.9" y2="436.4"/><line x1="176.4" y1="503.6" x2="75.9" y2="523.6"/><line x1="176.4" y1="503.6" x2="57.9" y2="480.0"/><line x1="176.4" y1="503.6" x2="62.6" y2="456.4"/><line x1="176.4" y1="503.6" x2="95.9" y2="423.1"/><line x1="163.1" y1="523.6" x2="75.9" y2="523.6"/><line x1="143.1" y1="536.9" x2="62.6" y2="503.6"/><line x1="143.1" y1="536.9" x2="57.9" y2="480.0"/><line x1="143.1" y1="536.9" x2="75.9" y2="436.4"/><line x1="119.5" y1="541.6" x2="62.6" y2="503.6"/><line x1="119.5" y1="541.6" x2="62.6" y2="456.4"/><line x1="119.5" y1="541.6" x2="75.9" y2="436.4"/><line x1="95.9" y1="536.9" x2="57.9" y2="480.0"/><line x1="95.9" y1="536.9" x2="95.9" y2="423.1"/><line x1="75.9" y1="523.6" x2="95.9" y2="423.1"/><line x1="62.6" y1="503.6" x2="95.9" y2="423.1"/></g>
<rect x="21.2" y="430.8" width="23.1" height="11.3" rx="1" fill="#cf4f12" stroke="#b84a10" stroke-opacity="0.5" stroke-width="0.4"/>
<rect x="12.7" y="460.4" width="23.0" height="11.4" rx="1" fill="#cf4f12" stroke="#b84a10" stroke-opacity="0.5" stroke-width="0.4"/>
<rect x="13.8" y="491.4" width="23.1" height="11.1" rx="1" fill="#cf4f12" stroke="#b84a10" stroke-opacity="0.5" stroke-width="0.4"/>
<rect x="24.2" y="520.8" width="23.1" height="11.1" rx="1" fill="#cf4f12" stroke="#b84a10" stroke-opacity="0.5" stroke-width="0.4"/>
<rect x="43.4" y="545.1" width="23.5" height="11.1" rx="1" fill="#cf4f12" stroke="#b84a10" stroke-opacity="0.5" stroke-width="0.4"/>
<rect x="70.0" y="563.0" width="21.9" height="9.9" rx="1" fill="#ee7a1e" stroke="#b84a10" stroke-opacity="0.5" stroke-width="0.4"/>
<rect x="99.8" y="571.5" width="21.5" height="9.8" rx="1" fill="#ee7a1e" stroke="#b84a10" stroke-opacity="0.5" stroke-width="0.4"/>
<rect x="130.7" y="570.4" width="21.2" height="9.9" rx="1" fill="#ee7a1e" stroke="#b84a10" stroke-opacity="0.5" stroke-width="0.4"/>
<rect x="160.0" y="560.5" width="21.2" height="9.2" rx="1" fill="#ee7a1e" stroke="#b84a10" stroke-opacity="0.5" stroke-width="0.4"/>
<rect x="184.2" y="541.0" width="21.5" height="10.2" rx="1" fill="#ee7a1e" stroke="#b84a10" stroke-opacity="0.5" stroke-width="0.4"/>
<rect x="202.8" y="515.8" width="19.0" height="9.0" rx="1" fill="#f5a02c" stroke="#b84a10" stroke-opacity="0.5" stroke-width="0.4"/>
<rect x="211.4" y="486.4" width="19.1" height="8.1" rx="1" fill="#f5a02c" stroke="#b84a10" stroke-opacity="0.5" stroke-width="0.4"/>
<rect x="209.7" y="455.2" width="19.9" height="8.5" rx="1" fill="#f5a02c" stroke="#b84a10" stroke-opacity="0.5" stroke-width="0.4"/>
<rect x="199.7" y="425.8" width="19.0" height="8.9" rx="1" fill="#f5a02c" stroke="#b84a10" stroke-opacity="0.5" stroke-width="0.4"/>
<rect x="180.2" y="401.5" width="19.5" height="8.7" rx="1" fill="#f5a02c" stroke="#b84a10" stroke-opacity="0.5" stroke-width="0.4"/>
<rect x="155.2" y="384.2" width="17.7" height="9.2" rx="1" fill="#f8c24a" stroke="#b84a10" stroke-opacity="0.5" stroke-width="0.4"/>
<rect x="125.3" y="375.8" width="18.4" height="8.7" rx="1" fill="#f8c24a" stroke="#b84a10" stroke-opacity="0.5" stroke-width="0.4"/>
<rect x="94.5" y="376.5" width="18.2" height="9.0" rx="1" fill="#f8c24a" stroke="#b84a10" stroke-opacity="0.5" stroke-width="0.4"/>
<rect x="65.6" y="386.9" width="18.0" height="8.5" rx="1" fill="#f8c24a" stroke="#b84a10" stroke-opacity="0.5" stroke-width="0.4"/>
<rect x="41.5" y="405.8" width="16.2" height="9.7" rx="1" fill="#f8c24a" stroke="#b84a10" stroke-opacity="0.5" stroke-width="0.4"/>
<text x="32.70" y="437.80" font-size="3.9" text-anchor="middle" fill="#3a3a3a" stroke="#3a3a3a" stroke-width="0.00" >Pathways in cancer</text>
<text x="24.20" y="467.50" font-size="3.9" text-anchor="middle" fill="#3a3a3a" stroke="#3a3a3a" stroke-width="0.00" >PI3K-Akt signaling pathway</text>
<text x="25.30" y="498.40" font-size="3.9" text-anchor="middle" fill="#3a3a3a" stroke="#3a3a3a" stroke-width="0.00" >Proteoglycans in cancer</text>
<text x="35.80" y="527.70" font-size="3.9" text-anchor="middle" fill="#3a3a3a" stroke="#3a3a3a" stroke-width="0.00" >Prostate cancer</text>
<text x="55.10" y="549.60" font-size="3.9" text-anchor="middle" fill="#3a3a3a" stroke="#3a3a3a" stroke-width="0.00" >EGFR tyrosine kinase</text>
<text x="55.10" y="554.60" font-size="3.9" text-anchor="middle" fill="#3a3a3a" stroke="#3a3a3a" stroke-width="0.00" >inhibitor resistance</text>
<text x="80.90" y="569.40" font-size="3.9" text-anchor="middle" fill="#3a3a3a" stroke="#3a3a3a" stroke-width="0.00" >MAPK signaling pathway</text>
<text x="110.50" y="577.80" font-size="3.9" text-anchor="middle" fill="#3a3a3a" stroke="#3a3a3a" stroke-width="0.00" >Focal adhesion</text>
<text x="141.30" y="576.80" font-size="3.9" text-anchor="middle" fill="#3a3a3a" stroke="#3a3a3a" stroke-width="0.00" >Gastric cancer</text>
<text x="170.60" y="566.50" font-size="3.9" text-anchor="middle" fill="#3a3a3a" stroke="#3a3a3a" stroke-width="0.00" >Estrogen signaling pathway</text>
<text x="195.00" y="545.10" font-size="3.9" text-anchor="middle" fill="#3a3a3a" stroke="#3a3a3a" stroke-width="0.00" >Central carbon metabolism in</text>
<text x="195.00" y="550.10" font-size="3.9" text-anchor="middle" fill="#3a3a3a" stroke="#3a3a3a" stroke-width="0.00" >cancer</text>
<text x="212.30" y="521.70" font-size="3.9" text-anchor="middle" fill="#3a3a3a" stroke="#3a3a3a" stroke-width="0.00" >Lipid and atherosclerosis</text>
<text x="221.00" y="491.90" font-size="3.9" text-anchor="middle" fill="#3a3a3a" stroke="#3a3a3a" stroke-width="0.00" >Endocrine resistance</text>
<text x="219.60" y="460.90" font-size="3.9" text-anchor="middle" fill="#3a3a3a" stroke="#3a3a3a" stroke-width="0.00" >Breast cancer</text>
<text x="209.20" y="431.60" font-size="3.9" text-anchor="middle" fill="#3a3a3a" stroke="#3a3a3a" stroke-width="0.00" >Ras signaling pathway</text>
<text x="190.00" y="407.30" font-size="3.9" text-anchor="middle" fill="#3a3a3a" stroke="#3a3a3a" stroke-width="0.00" >Rap1 signaling pathway</text>
<text x="164.00" y="390.20" font-size="3.9" text-anchor="middle" fill="#3a3a3a" stroke="#3a3a3a" stroke-width="0.00" >Bladder cancer</text>
<text x="134.50" y="381.60" font-size="3.9" text-anchor="middle" fill="#3a3a3a" stroke="#3a3a3a" stroke-width="0.00" >IL-17 signaling pathway</text>
<text x="103.60" y="382.40" font-size="3.9" text-anchor="middle" fill="#3a3a3a" stroke="#3a3a3a" stroke-width="0.00" >Melanoma</text>
<text x="74.60" y="392.60" font-size="3.9" text-anchor="middle" fill="#3a3a3a" stroke="#3a3a3a" stroke-width="0.00" >Non-small cell lung cancer</text>
<text x="49.60" y="409.60" font-size="3.9" text-anchor="middle" fill="#3a3a3a" stroke="#3a3a3a" stroke-width="0.00" >Chemical carcinogenesis -</text>
<text x="49.60" y="414.60" font-size="3.9" text-anchor="middle" fill="#3a3a3a" stroke="#3a3a3a" stroke-width="0.00" >reactive oxygen species</text>
<ellipse cx="119.5" cy="418.4" rx="10.2" ry="7.2" fill="#f05c9f" stroke="#d84890" stroke-width="0.3"/>
<text x="119.50" y="419.73" font-size="3.7" text-anchor="middle" fill="#6a1840" stroke="#6a1840" stroke-width="0.12" >MMP9</text>
<ellipse cx="143.1" cy="423.1" rx="10.2" ry="7.2" fill="#f05c9f" stroke="#d84890" stroke-width="0.3"/>
<text x="143.07" y="424.42" font-size="3.7" text-anchor="middle" fill="#6a1840" stroke="#6a1840" stroke-width="0.12" >FGFR2</text>
<ellipse cx="163.1" cy="436.4" rx="10.2" ry="7.2" fill="#f05c9f" stroke="#d84890" stroke-width="0.3"/>
<text x="163.06" y="437.77" font-size="3.7" text-anchor="middle" fill="#6a1840" stroke="#6a1840" stroke-width="0.12" >GSK3B</text>
<ellipse cx="176.4" cy="456.4" rx="10.2" ry="7.2" fill="#f05c9f" stroke="#d84890" stroke-width="0.3"/>
<text x="176.41" y="457.76" font-size="3.7" text-anchor="middle" fill="#6a1840" stroke="#6a1840" stroke-width="0.12" >HGF</text>
<ellipse cx="181.1" cy="480.0" rx="10.2" ry="7.2" fill="#f05c9f" stroke="#d84890" stroke-width="0.3"/>
<text x="181.10" y="481.33" font-size="3.7" text-anchor="middle" fill="#6a1840" stroke="#6a1840" stroke-width="0.12" >IGF1</text>
<ellipse cx="176.4" cy="503.6" rx="10.2" ry="7.2" fill="#f05c9f" stroke="#d84890" stroke-width="0.3"/>
<text x="176.41" y="504.91" font-size="3.7" text-anchor="middle" fill="#6a1840" stroke="#6a1840" stroke-width="0.12" >ERBB2</text>
<ellipse cx="163.1" cy="523.6" rx="10.2" ry="7.2" fill="#f05c9f" stroke="#d84890" stroke-width="0.3"/>
<text x="163.06" y="524.89" font-size="3.7" text-anchor="middle" fill="#6a1840" stroke="#6a1840" stroke-width="0.12" >MET</text>
<ellipse cx="143.1" cy="536.9" rx="10.2" ry="7.2" fill="#f05c9f" stroke="#d84890" stroke-width="0.3"/>
<text x="143.07" y="538.24" font-size="3.7" text-anchor="middle" fill="#6a1840" stroke="#6a1840" stroke-width="0.12" >AKT1</text>
<ellipse cx="119.5" cy="541.6" rx="10.2" ry="7.2" fill="#f05c9f" stroke="#d84890" stroke-width="0.3"/>
<text x="119.50" y="542.93" font-size="3.7" text-anchor="middle" fill="#6a1840" stroke="#6a1840" stroke-width="0.12" >EGFR</text>
<ellipse cx="95.9" cy="536.9" rx="10.2" ry="7.2" fill="#f05c9f" stroke="#d84890" stroke-width="0.3"/>
<text x="95.93" y="538.24" font-size="3.7" text-anchor="middle" fill="#6a1840" stroke="#6a1840" stroke-width="0.12" >PIK3CG</text>
<ellipse cx="75.9" cy="523.6" rx="10.2" ry="7.2" fill="#f05c9f" stroke="#d84890" stroke-width="0.3"/>
<text x="75.94" y="524.89" font-size="3.7" text-anchor="middle" fill="#6a1840" stroke="#6a1840" stroke-width="0.12" >ESR2</text>
<ellipse cx="62.6" cy="503.6" rx="10.2" ry="7.2" fill="#f05c9f" stroke="#d84890" stroke-width="0.3"/>
<text x="62.59" y="504.91" font-size="3.7" text-anchor="middle" fill="#6a1840" stroke="#6a1840" stroke-width="0.12" >MMP1</text>
<ellipse cx="57.9" cy="480.0" rx="10.2" ry="7.2" fill="#f05c9f" stroke="#d84890" stroke-width="0.3"/>
<text x="57.90" y="481.33" font-size="3.7" text-anchor="middle" fill="#6a1840" stroke="#6a1840" stroke-width="0.12" >HIF1A</text>
<ellipse cx="62.6" cy="456.4" rx="10.2" ry="7.2" fill="#f05c9f" stroke="#d84890" stroke-width="0.3"/>
<text x="62.59" y="457.76" font-size="3.7" text-anchor="middle" fill="#6a1840" stroke="#6a1840" stroke-width="0.12" >MMP2</text>
<ellipse cx="75.9" cy="436.4" rx="10.2" ry="7.2" fill="#f05c9f" stroke="#d84890" stroke-width="0.3"/>
<text x="75.94" y="437.77" font-size="3.7" text-anchor="middle" fill="#6a1840" stroke="#6a1840" stroke-width="0.12" >CASP3</text>
<ellipse cx="95.9" cy="423.1" rx="10.2" ry="7.2" fill="#f05c9f" stroke="#d84890" stroke-width="0.3"/>
<text x="95.93" y="424.42" font-size="3.7" text-anchor="middle" fill="#6a1840" stroke="#6a1840" stroke-width="0.12" >HSP90AA1</text>
<polygon points="108.6,476.7 113.2,469.3 122.8,469.3 127.4,476.7 122.8,484.1 113.2,484.1" fill="#22a83e" stroke="#18862e" stroke-width="0.4"/>
<text x="118.00" y="478.07" font-size="3.8" text-anchor="middle" fill="#1a2a1a" stroke="#1a2a1a" stroke-width="0.05" >MAT</text>
<text x="222.30" y="327.44" font-size="14" text-anchor="start" fill="#222" stroke="#222" stroke-width="0.20" >C</text>
<rect x="349.9" y="324.85" width="134.5" height="6.3" fill="#808080" stroke="#666" stroke-width="0.5"/>
<line x1="348.5" y1="328.00" x2="349.9" y2="328.00" stroke="#333" stroke-width="0.4"/>
<circle cx="484.4" cy="328.00" r="2.7" fill="#1a1a1a" stroke="#000" stroke-width="0.3"/>
<text x="347.90" y="329.48" font-size="4.12" text-anchor="end" fill="#1a1a1a" stroke="#1a1a1a" stroke-width="0.10" >epithelial to mesenchymal transition</text>
<rect x="349.9" y="333.93" width="112.8" height="6.3" fill="#808080" stroke="#666" stroke-width="0.5"/>
<line x1="348.5" y1="337.08" x2="349.9" y2="337.08" stroke="#333" stroke-width="0.4"/>
<circle cx="462.7" cy="337.08" r="3.8" fill="#1a1a1a" stroke="#000" stroke-width="0.3"/>
<text x="347.90" y="336.26" font-size="4.12" text-anchor="end" fill="#1a1a1a" stroke="#1a1a1a" stroke-width="0.10" >positive regulation of transcription from RNA polymerase II</text>
<text x="347.90" y="340.86" font-size="4.12" text-anchor="end" fill="#1a1a1a" stroke="#1a1a1a" stroke-width="0.10" >promoter</text>
<rect x="349.9" y="343.01" width="102.8" height="6.3" fill="#808080" stroke="#666" stroke-width="0.5"/>
<line x1="348.5" y1="346.16" x2="349.9" y2="346.16" stroke="#333" stroke-width="0.4"/>
<circle cx="452.7" cy="346.16" r="2.3" fill="#1a1a1a" stroke="#000" stroke-width="0.3"/>
<text x="347.90" y="347.64" font-size="4.12" text-anchor="end" fill="#1a1a1a" stroke="#1a1a1a" stroke-width="0.10" >cellular response to reactive oxygen species</text>
<rect x="349.9" y="352.09" width="101.4" height="6.3" fill="#808080" stroke="#666" stroke-width="0.5"/>
<line x1="348.5" y1="355.24" x2="349.9" y2="355.24" stroke="#333" stroke-width="0.4"/>
<circle cx="451.3" cy="355.24" r="2.7" fill="#1a1a1a" stroke="#000" stroke-width="0.3"/>
<text x="347.90" y="356.72" font-size="4.12" text-anchor="end" fill="#1a1a1a" stroke="#1a1a1a" stroke-width="0.10" >positive regulation of protein kinase B signaling</text>
<rect x="349.9" y="361.17" width="89.7" height="6.3" fill="#808080" stroke="#666" stroke-width="0.5"/>
<line x1="348.5" y1="364.32" x2="349.9" y2="364.32" stroke="#333" stroke-width="0.4"/>
<circle cx="439.6" cy="364.32" r="3.3" fill="#1a1a1a" stroke="#000" stroke-width="0.3"/>
<text x="347.90" y="365.80" font-size="4.12" text-anchor="end" fill="#1a1a1a" stroke="#1a1a1a" stroke-width="0.10" >negative regulation of apoptotic process</text>
<rect x="349.9" y="370.25" width="84.1" height="6.3" fill="#808080" stroke="#666" stroke-width="0.5"/>
<line x1="348.5" y1="373.40" x2="349.9" y2="373.40" stroke="#333" stroke-width="0.4"/>
<circle cx="434.0" cy="373.40" r="2.7" fill="#1a1a1a" stroke="#000" stroke-width="0.3"/>
<text x="347.90" y="374.88" font-size="4.12" text-anchor="end" fill="#1a1a1a" stroke="#1a1a1a" stroke-width="0.10" >positive regulation of protein phosphorylation</text>
<rect x="349.9" y="379.33" width="78.8" height="6.3" fill="#808080" stroke="#666" stroke-width="0.5"/>
<line x1="348.5" y1="382.48" x2="349.9" y2="382.48" stroke="#333" stroke-width="0.4"/>
<circle cx="428.7" cy="382.48" r="2.0" fill="#1a1a1a" stroke="#000" stroke-width="0.3"/>
<text x="347.90" y="383.96" font-size="4.12" text-anchor="end" fill="#1a1a1a" stroke="#1a1a1a" stroke-width="0.10" >cellular response to cadmium ion</text>
<rect x="349.9" y="388.41" width="69.7" height="6.3" fill="#808080" stroke="#666" stroke-width="0.5"/>
<line x1="348.5" y1="391.56" x2="349.9" y2="391.56" stroke="#333" stroke-width="0.4"/>
<circle cx="419.6" cy="391.56" r="2.7" fill="#1a1a1a" stroke="#000" stroke-width="0.3"/>
<text x="347.90" y="393.04" font-size="4.12" text-anchor="end" fill="#1a1a1a" stroke="#1a1a1a" stroke-width="0.10" >positive regulation of cell proliferation</text>
<rect x="349.9" y="397.49" width="66.8" height="6.3" fill="#808080" stroke="#666" stroke-width="0.5"/>
<line x1="348.5" y1="400.64" x2="349.9" y2="400.64" stroke="#333" stroke-width="0.4"/>
<circle cx="416.7" cy="400.64" r="2.3" fill="#1a1a1a" stroke="#000" stroke-width="0.3"/>
<text x="347.90" y="402.12" font-size="4.12" text-anchor="end" fill="#1a1a1a" stroke="#1a1a1a" stroke-width="0.10" >protein autophosphorylation</text>
<rect x="349.9" y="406.57" width="62.4" height="6.3" fill="#808080" stroke="#666" stroke-width="0.5"/>
<line x1="348.5" y1="409.72" x2="349.9" y2="409.72" stroke="#333" stroke-width="0.4"/>
<circle cx="412.3" cy="409.72" r="3.2" fill="#1a1a1a" stroke="#000" stroke-width="0.3"/>
<text x="347.90" y="411.20" font-size="4.12" text-anchor="end" fill="#1a1a1a" stroke="#1a1a1a" stroke-width="0.10" >signal transduction</text>
<rect x="349.9" y="415.65" width="61.1" height="6.3" fill="#808080" stroke="#666" stroke-width="0.5"/>
<line x1="348.5" y1="418.80" x2="349.9" y2="418.80" stroke="#333" stroke-width="0.4"/>
<circle cx="411.0" cy="418.80" r="2.5" fill="#1a1a1a" stroke="#000" stroke-width="0.3"/>
<text x="347.90" y="420.28" font-size="4.12" text-anchor="end" fill="#1a1a1a" stroke="#1a1a1a" stroke-width="0.10" >proteolysis</text>
<rect x="349.9" y="424.73" width="58.4" height="6.3" fill="#808080" stroke="#666" stroke-width="0.5"/>
<line x1="348.5" y1="427.88" x2="349.9" y2="427.88" stroke="#333" stroke-width="0.4"/>
<circle cx="408.3" cy="427.88" r="2.6" fill="#1a1a1a" stroke="#000" stroke-width="0.3"/>
<text x="347.90" y="429.36" font-size="4.12" text-anchor="end" fill="#1a1a1a" stroke="#1a1a1a" stroke-width="0.10" >positive regulation of transcription, DNA-templated</text>
<rect x="349.9" y="433.81" width="56.6" height="6.3" fill="#808080" stroke="#666" stroke-width="0.5"/>
<line x1="348.5" y1="436.96" x2="349.9" y2="436.96" stroke="#333" stroke-width="0.4"/>
<circle cx="406.5" cy="436.96" r="2.3" fill="#1a1a1a" stroke="#000" stroke-width="0.3"/>
<text x="347.90" y="438.44" font-size="4.12" text-anchor="end" fill="#1a1a1a" stroke="#1a1a1a" stroke-width="0.10" >positive regulation of cell migration</text>
<rect x="349.9" y="442.89" width="54.6" height="6.3" fill="#808080" stroke="#666" stroke-width="0.5"/>
<line x1="348.5" y1="446.04" x2="349.9" y2="446.04" stroke="#333" stroke-width="0.4"/>
<circle cx="404.5" cy="446.04" r="2.5" fill="#1a1a1a" stroke="#000" stroke-width="0.3"/>
<text x="347.90" y="447.52" font-size="4.12" text-anchor="end" fill="#1a1a1a" stroke="#1a1a1a" stroke-width="0.10" >positive regulation of gene expression</text>
<rect x="349.9" y="451.97" width="50.6" height="6.3" fill="#808080" stroke="#666" stroke-width="0.5"/>
<line x1="348.5" y1="455.12" x2="349.9" y2="455.12" stroke="#333" stroke-width="0.4"/>
<circle cx="400.5" cy="455.12" r="2.3" fill="#1a1a1a" stroke="#000" stroke-width="0.3"/>
<text x="347.90" y="456.60" font-size="4.12" text-anchor="end" fill="#1a1a1a" stroke="#1a1a1a" stroke-width="0.10" >positive regulation of apoptotic process</text>
<rect x="351.4" y="464.45" width="77.4" height="6.1" fill="#7af032" stroke="#66d020" stroke-width="0.5"/>
<line x1="350.0" y1="467.50" x2="351.4" y2="467.50" stroke="#333" stroke-width="0.4"/>
<circle cx="428.8" cy="467.50" r="2.8" fill="#1a1a1a" stroke="#000" stroke-width="0.3"/>
<text x="349.40" y="468.94" font-size="4.0" text-anchor="end" fill="#1a1a1a" stroke="#1a1a1a" stroke-width="0.10" >macromolecular complex</text>
<rect x="351.4" y="472.80" width="60.5" height="6.1" fill="#7af032" stroke="#66d020" stroke-width="0.5"/>
<line x1="350.0" y1="475.85" x2="351.4" y2="475.85" stroke="#333" stroke-width="0.4"/>
<circle cx="411.9" cy="475.85" r="3.2" fill="#1a1a1a" stroke="#000" stroke-width="0.3"/>
<text x="349.40" y="477.29" font-size="4.0" text-anchor="end" fill="#1a1a1a" stroke="#1a1a1a" stroke-width="0.10" >extracellular region</text>
<rect x="351.4" y="481.15" width="47.4" height="6.1" fill="#7af032" stroke="#66d020" stroke-width="0.5"/>
<line x1="350.0" y1="484.20" x2="351.4" y2="484.20" stroke="#333" stroke-width="0.4"/>
<circle cx="398.8" cy="484.20" r="2.5" fill="#1a1a1a" stroke="#000" stroke-width="0.3"/>
<text x="349.40" y="485.64" font-size="4.0" text-anchor="end" fill="#1a1a1a" stroke="#1a1a1a" stroke-width="0.10" >cell surface</text>
<rect x="351.4" y="493.40" width="99.0" height="6.2" fill="#808080" stroke="#666" stroke-width="0.5"/>
<line x1="350.0" y1="496.50" x2="351.4" y2="496.50" stroke="#333" stroke-width="0.4"/>
<circle cx="450.4" cy="496.50" r="3.5" fill="#1a1a1a" stroke="#000" stroke-width="0.3"/>
<text x="349.40" y="497.94" font-size="4.0" text-anchor="end" fill="#1a1a1a" stroke="#1a1a1a" stroke-width="0.10" >identical protein binding</text>
<rect x="351.4" y="501.68" width="80.8" height="6.2" fill="#808080" stroke="#666" stroke-width="0.5"/>
<line x1="350.0" y1="504.78" x2="351.4" y2="504.78" stroke="#333" stroke-width="0.4"/>
<circle cx="432.2" cy="504.78" r="2.6" fill="#1a1a1a" stroke="#000" stroke-width="0.3"/>
<text x="349.40" y="506.22" font-size="4.0" text-anchor="end" fill="#1a1a1a" stroke="#1a1a1a" stroke-width="0.10" >protein kinase activity</text>
<rect x="351.4" y="509.96" width="80.8" height="6.2" fill="#808080" stroke="#666" stroke-width="0.5"/>
<line x1="350.0" y1="513.06" x2="351.4" y2="513.06" stroke="#333" stroke-width="0.4"/>
<circle cx="432.2" cy="513.06" r="2.6" fill="#1a1a1a" stroke="#000" stroke-width="0.3"/>
<text x="349.40" y="514.50" font-size="4.0" text-anchor="end" fill="#1a1a1a" stroke="#1a1a1a" stroke-width="0.10" >enzyme binding</text>
<rect x="351.4" y="518.24" width="76.2" height="6.2" fill="#808080" stroke="#666" stroke-width="0.5"/>
<line x1="350.0" y1="521.34" x2="351.4" y2="521.34" stroke="#333" stroke-width="0.4"/>
<circle cx="427.6" cy="521.34" r="3.2" fill="#1a1a1a" stroke="#000" stroke-width="0.3"/>
<text x="349.40" y="522.78" font-size="4.0" text-anchor="end" fill="#1a1a1a" stroke="#1a1a1a" stroke-width="0.10" >ATP binding</text>
<rect x="351.4" y="526.52" width="74.9" height="6.2" fill="#808080" stroke="#666" stroke-width="0.5"/>
<line x1="350.0" y1="529.62" x2="351.4" y2="529.62" stroke="#333" stroke-width="0.4"/>
<circle cx="426.3" cy="529.62" r="2.6" fill="#1a1a1a" stroke="#000" stroke-width="0.3"/>
<text x="349.40" y="531.06" font-size="4.0" text-anchor="end" fill="#1a1a1a" stroke="#1a1a1a" stroke-width="0.10" >protein serine/threonine/tyrosine kinase activity</text>
<rect x="351.4" y="534.80" width="69.5" height="6.2" fill="#808080" stroke="#666" stroke-width="0.5"/>
<line x1="350.0" y1="537.90" x2="351.4" y2="537.90" stroke="#333" stroke-width="0.4"/>
<circle cx="420.9" cy="537.90" r="1.2" fill="#1a1a1a" stroke="#000" stroke-width="0.3"/>
<text x="349.40" y="539.34" font-size="4.0" text-anchor="end" fill="#1a1a1a" stroke="#1a1a1a" stroke-width="0.10" >nitric-oxide synthase regulator activity</text>
<rect x="351.4" y="543.08" width="69.5" height="6.2" fill="#808080" stroke="#666" stroke-width="0.5"/>
<line x1="350.0" y1="546.18" x2="351.4" y2="546.18" stroke="#333" stroke-width="0.4"/>
<circle cx="420.9" cy="546.18" r="2.0" fill="#1a1a1a" stroke="#000" stroke-width="0.3"/>
<text x="349.40" y="547.62" font-size="4.0" text-anchor="end" fill="#1a1a1a" stroke="#1a1a1a" stroke-width="0.10" >transmembrane receptor protein tyrosine kinase activity</text>
<rect x="351.4" y="551.36" width="58.5" height="6.2" fill="#808080" stroke="#666" stroke-width="0.5"/>
<line x1="350.0" y1="554.46" x2="351.4" y2="554.46" stroke="#333" stroke-width="0.4"/>
<circle cx="409.9" cy="554.46" r="2.2" fill="#1a1a1a" stroke="#000" stroke-width="0.3"/>
<text x="349.40" y="555.90" font-size="4.0" text-anchor="end" fill="#1a1a1a" stroke="#1a1a1a" stroke-width="0.10" >protein phosphatase binding</text>
<rect x="351.4" y="559.64" width="58.5" height="6.2" fill="#808080" stroke="#666" stroke-width="0.5"/>
<line x1="350.0" y1="562.74" x2="351.4" y2="562.74" stroke="#333" stroke-width="0.4"/>
<circle cx="409.9" cy="562.74" r="2.5" fill="#1a1a1a" stroke="#000" stroke-width="0.3"/>
<text x="349.40" y="564.18" font-size="4.0" text-anchor="end" fill="#1a1a1a" stroke="#1a1a1a" stroke-width="0.10" >kinase activity</text>
<rect x="351.4" y="567.92" width="55.3" height="6.2" fill="#808080" stroke="#666" stroke-width="0.5"/>
<line x1="350.0" y1="571.02" x2="351.4" y2="571.02" stroke="#333" stroke-width="0.4"/>
<circle cx="406.7" cy="571.02" r="2.2" fill="#1a1a1a" stroke="#000" stroke-width="0.3"/>
<text x="349.40" y="572.46" font-size="4.0" text-anchor="end" fill="#1a1a1a" stroke="#1a1a1a" stroke-width="0.10" >peptidase activity</text>
<rect x="351.4" y="576.20" width="55.3" height="6.2" fill="#808080" stroke="#666" stroke-width="0.5"/>
<line x1="350.0" y1="579.30" x2="351.4" y2="579.30" stroke="#333" stroke-width="0.4"/>
<circle cx="406.7" cy="579.30" r="2.8" fill="#1a1a1a" stroke="#000" stroke-width="0.3"/>
<text x="349.40" y="580.74" font-size="4.0" text-anchor="end" fill="#1a1a1a" stroke="#1a1a1a" stroke-width="0.10" >protein homodimerization activity</text>
<rect x="351.4" y="584.48" width="53.8" height="6.2" fill="#808080" stroke="#666" stroke-width="0.5"/>
<line x1="350.0" y1="587.58" x2="351.4" y2="587.58" stroke="#333" stroke-width="0.4"/>
<circle cx="405.2" cy="587.58" r="2.2" fill="#1a1a1a" stroke="#000" stroke-width="0.3"/>
<text x="349.40" y="589.02" font-size="4.0" text-anchor="end" fill="#1a1a1a" stroke="#1a1a1a" stroke-width="0.10" >protein tyrosine kinase activity</text>
<rect x="351.4" y="592.76" width="50.7" height="6.2" fill="#808080" stroke="#666" stroke-width="0.5"/>
<line x1="350.0" y1="595.86" x2="351.4" y2="595.86" stroke="#333" stroke-width="0.4"/>
<circle cx="402.1" cy="595.86" r="2.2" fill="#1a1a1a" stroke="#000" stroke-width="0.3"/>
<text x="349.40" y="597.30" font-size="4.0" text-anchor="end" fill="#1a1a1a" stroke="#1a1a1a" stroke-width="0.10" >histone deacetylase binding</text>
<rect x="351.4" y="601.04" width="49.0" height="6.2" fill="#808080" stroke="#666" stroke-width="0.5"/>
<line x1="350.0" y1="604.14" x2="351.4" y2="604.14" stroke="#333" stroke-width="0.4"/>
<circle cx="400.4" cy="604.14" r="2.8" fill="#1a1a1a" stroke="#000" stroke-width="0.3"/>
<text x="349.40" y="605.58" font-size="4.0" text-anchor="end" fill="#1a1a1a" stroke="#1a1a1a" stroke-width="0.10" >zinc ion binding</text>
<rect x="351.4" y="609.32" width="43.3" height="6.2" fill="#808080" stroke="#666" stroke-width="0.5"/>
<line x1="350.0" y1="612.42" x2="351.4" y2="612.42" stroke="#333" stroke-width="0.4"/>
<circle cx="394.7" cy="612.42" r="2.2" fill="#1a1a1a" stroke="#000" stroke-width="0.3"/>
<text x="349.40" y="613.86" font-size="4.0" text-anchor="end" fill="#1a1a1a" stroke="#1a1a1a" stroke-width="0.10" >serine-type endopeptidase activity</text>
<rect x="511.9" y="322.0" width="7.2" height="138.3" fill="#d9d9d9"/>
<rect x="511.9" y="463.2" width="7.2" height="25.7" fill="#d9d9d9"/>
<rect x="511.9" y="491.4" width="7.2" height="125.7" fill="#d9d9d9"/>
<text x="0" y="0" font-size="4" fill="#333" text-anchor="middle" transform="translate(514.1,391.2) rotate(90)">BP</text>
<text x="0" y="0" font-size="4" fill="#333" text-anchor="middle" transform="translate(514.1,476.1) rotate(90)">CC</text>
<text x="0" y="0" font-size="4" fill="#333" text-anchor="middle" transform="translate(514.1,554.3) rotate(90)">MF</text>
<line x1="351.2" y1="617.2" x2="511.9" y2="617.2" stroke="#222" stroke-width="0.6"/>
<line x1="351.6" y1="617.2" x2="351.6" y2="618.6" stroke="#333" stroke-width="0.4"/>
<text x="351.60" y="622.71" font-size="4.2" text-anchor="middle" fill="#4d4d4d" stroke="#4d4d4d" stroke-width="0.11" >0.0</text>
<line x1="392.2" y1="617.2" x2="392.2" y2="618.6" stroke="#333" stroke-width="0.4"/>
<text x="392.20" y="622.71" font-size="4.2" text-anchor="middle" fill="#4d4d4d" stroke="#4d4d4d" stroke-width="0.11" >2.5</text>
<line x1="432.6" y1="617.2" x2="432.6" y2="618.6" stroke="#333" stroke-width="0.4"/>
<text x="432.60" y="622.71" font-size="4.2" text-anchor="middle" fill="#4d4d4d" stroke="#4d4d4d" stroke-width="0.11" >5.0</text>
<line x1="473.0" y1="617.2" x2="473.0" y2="618.6" stroke="#333" stroke-width="0.4"/>
<text x="473.00" y="622.71" font-size="4.2" text-anchor="middle" fill="#4d4d4d" stroke="#4d4d4d" stroke-width="0.11" >7.5</text>
<text x="432.2" y="628.8" font-size="5.2" fill="#111" text-anchor="middle">-log<tspan font-size="3.5" dy="1.2">10</tspan><tspan dy="-1.2">(pvalue)</tspan></text>
<text x="485.60" y="569.42" font-size="5.6" text-anchor="start" fill="#111" stroke="#111" stroke-width="0.14" >Count</text>
<circle cx="491.3" cy="577.2" r="2.9" fill="#1a1a1a"/>
<text x="500.00" y="578.71" font-size="4.2" text-anchor="start" fill="#222" stroke="#222" stroke-width="0.11" >5.0</text>
<circle cx="491.3" cy="585.4" r="3.9" fill="#1a1a1a"/>
<text x="500.00" y="586.91" font-size="4.2" text-anchor="start" fill="#222" stroke="#222" stroke-width="0.11" >7.5</text>
<circle cx="491.3" cy="594.8" r="4.6" fill="#1a1a1a"/>
<text x="500.00" y="596.31" font-size="4.2" text-anchor="start" fill="#222" stroke="#222" stroke-width="0.11" >10.0</text>
<circle cx="491.3" cy="605.9" r="5.2" fill="#1a1a1a"/>
<text x="500.00" y="607.41" font-size="4.2" text-anchor="start" fill="#222" stroke="#222" stroke-width="0.11" >12.5</text>
</svg>
</body></html>
